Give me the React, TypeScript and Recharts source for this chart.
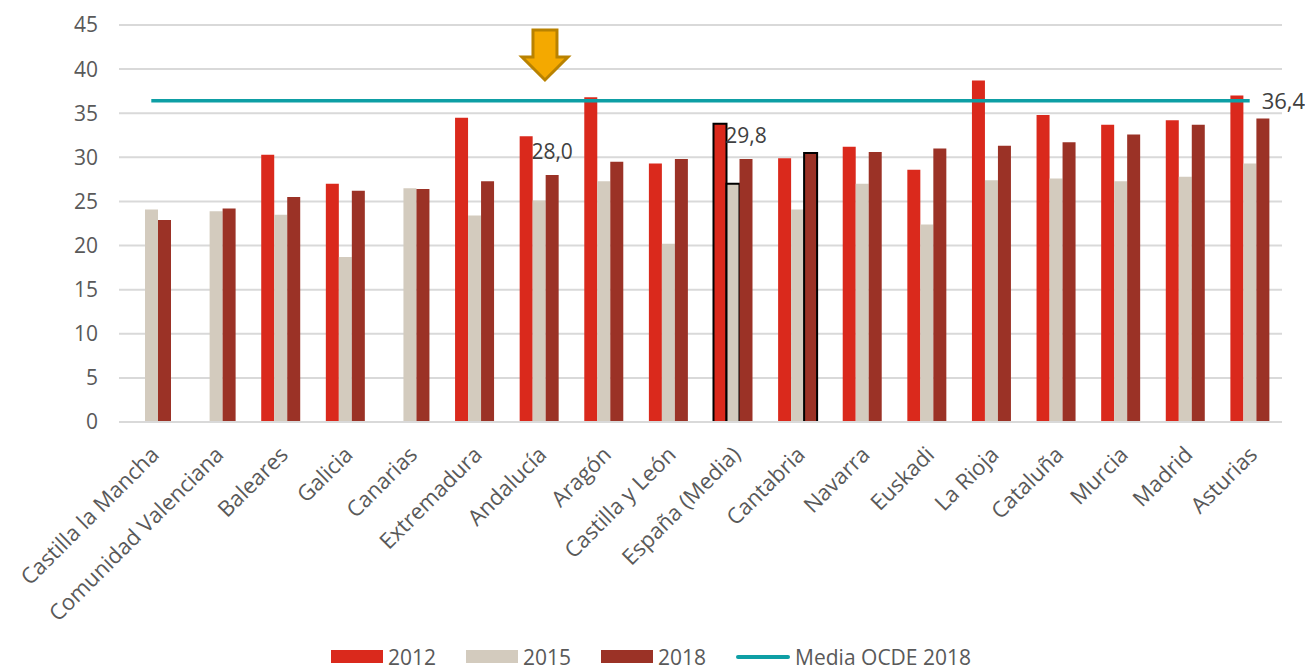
import { Bar, Line, XAxis, YAxis, CartesianGrid, Legend, Cell, ReferenceDot, LabelList, ComposedChart } from 'recharts'

// regiones, de menor a mayor valor 2018
const regions = [
  'Castilla la Mancha', 'Comunidad Valenciana', 'Baleares', 'Galicia', 'Canarias',
  'Extremadura', 'Andalucía', 'Aragón', 'Castilla y León', 'España (Media)',
  'Cantabria', 'Navarra', 'Euskadi', 'La Rioja', 'Cataluña', 'Murcia', 'Madrid', 'Asturias',
]
const y2012 = [null, null, 30.3, 27.0, null, 34.5, 32.4, 36.8, 29.3, 33.8, 29.9, 31.2, 28.6, 38.7, 34.8, 33.7, 34.2, 37.0]
const y2015 = [24.1, 23.9, 23.5, 18.7, 26.5, 23.4, 25.1, 27.3, 20.2, 27.0, 24.1, 27.0, 22.4, 27.4, 27.6, 27.3, 27.8, 29.3]
const y2018 = [22.9, 24.2, 25.5, 26.2, 26.4, 27.3, 28.0, 29.5, 29.8, 29.8, 30.5, 30.6, 31.0, 31.3, 31.7, 32.6, 33.7, 34.4]
const mediaOCDE = 36.4
const yTicks = [0, 5, 10, 15, 20, 25, 30, 35, 40, 45]

const labelled2018 = ['Andalucía', 'España (Media)']

const data = regions.map((r, i) => ({
  region: r,
  y2012: y2012[i],
  y2015: y2015[i],
  y2018: y2018[i],
  ocde: mediaOCDE,
}))

const FONT = '"Open Sans", sans-serif'
const C2012 = '#DA291C'
const C2015 = '#D3CBBE'
const C2018 = '#9B3226'
const TEAL = '#0E9FA5'
const TXT = '#595959'

const fmt = (v: number) => v.toFixed(1).replace('.', ',')

function RegionTick({ x, y, payload }: any) {
  return (
    <g transform={`translate(${x + 9},${y + 34})`}>
      <text textAnchor="end" transform="rotate(-45)" fill={TXT} fontSize={22} fontFamily={FONT}>
        {payload.value}
      </text>
    </g>
  )
}

function Arrow({ cx, cy }: any) {
  const c = cx + 6
  const pts = [
    [c - 12, cy + 5], [c + 12, cy + 5], [c + 12, cy + 32], [c + 23, cy + 32],
    [c, cy + 55], [c - 23, cy + 32], [c - 12, cy + 32],
  ].map(p => p.join(',')).join(' ')
  return <polygon points={pts} fill="#F4A900" stroke="#B98200" strokeWidth={3} strokeLinejoin="miter" />
}

function LegendBox() {
  const item = (color: string, label: string, line = false) => (
    <div style={{ display: 'flex', alignItems: 'center', marginRight: 30 }}>
      {line
        ? <div style={{ width: 54, height: 4, background: TEAL, borderRadius: 2, marginRight: 5 }} />
        : <div style={{ width: 52, height: 13, background: color, marginRight: 5 }} />}
      <span style={{ fontSize: 21, color: TXT, fontFamily: FONT, lineHeight: '22px' }}>{label}</span>
    </div>
  )
  return (
    <div style={{ height: 30, paddingTop: 5, boxSizing: 'border-box', display: 'flex', paddingLeft: 331 }}>
      {item(C2012, '2012')}
      {item(C2015, '2015')}
      {item(C2018, '2018')}
      {item(TEAL, 'Media OCDE 2018', true)}
    </div>
  )
}

export default function App() {
  const last = regions.length - 1
  return (
    <div style={{ position: 'absolute', left: 0, top: 0, width: 1305, height: 669, background: '#fff' }}>
      <ComposedChart
        width={1305}
        height={669}
        data={data}
        margin={{ top: 25, right: 23, left: 0, bottom: 0 }}
        barGap={0}
        barSize={13}
      >
        <CartesianGrid vertical={false} stroke="#D9D9D9" strokeWidth={2} />
        <XAxis
          dataKey="region"
          interval={0}
          height={217}
          tick={<RegionTick />}
          tickLine={false}
          tickSize={0}
          tickMargin={0}
          axisLine={{ stroke: '#D9D9D9', strokeWidth: 2 }}
        />
        <YAxis
          domain={[0, 45]}
          ticks={yTicks}
          width={119}
          axisLine={false}
          tickLine={false}
          tickMargin={15}
          tick={{ fill: TXT, fontSize: 21, fontFamily: FONT }}
        />
        <Legend verticalAlign="bottom" content={<LegendBox />} wrapperStyle={{ left: 0, width: 1305 }} />
        <Bar dataKey="y2012" fill={C2012} isAnimationActive={false}>
          {data.map(d => (
            <Cell key={d.region} fill={C2012}
              stroke={d.region === 'España (Media)' ? '#000' : 'none'} strokeWidth={2} />
          ))}
        </Bar>
        <Bar dataKey="y2015" fill={C2015} isAnimationActive={false}>
          {data.map(d => (
            <Cell key={d.region} fill={C2015}
              stroke={d.region === 'España (Media)' ? '#000' : 'none'} strokeWidth={2} />
          ))}
        </Bar>
        <Bar dataKey="y2018" fill={C2018} isAnimationActive={false}>
          {data.map(d => (
            <Cell key={d.region} fill={C2018}
              stroke={d.region === 'Cantabria' ? '#000' : 'none'} strokeWidth={2} />
          ))}
          <LabelList
            dataKey="y2018"
            content={(p: any) => {
              if (!labelled2018.includes(regions[p.index])) return null
              return (
                <text x={p.x + p.width / 2} y={p.y - 16} textAnchor="middle"
                  fill="#404040" fontSize={21} fontFamily={FONT}>
                  {fmt(p.value)}
                </text>
              )
            }}
          />
        </Bar>
        <Line
          dataKey="ocde"
          stroke={TEAL}
          strokeWidth={3.5}
          dot={false}
          activeDot={false}
          isAnimationActive={false}
          label={(p: any) => p.index === last
            ? <text key="l" x={p.x + 12} y={p.y + 8} fill="#404040" fontSize={22} fontFamily={FONT}>{fmt(p.value)}</text>
            : <g key={p.index} />}
        />
        <ReferenceDot x="Andalucía" y={45} r={0} shape={<Arrow />} ifOverflow="visible" />
      </ComposedChart>
    </div>
  )
}
